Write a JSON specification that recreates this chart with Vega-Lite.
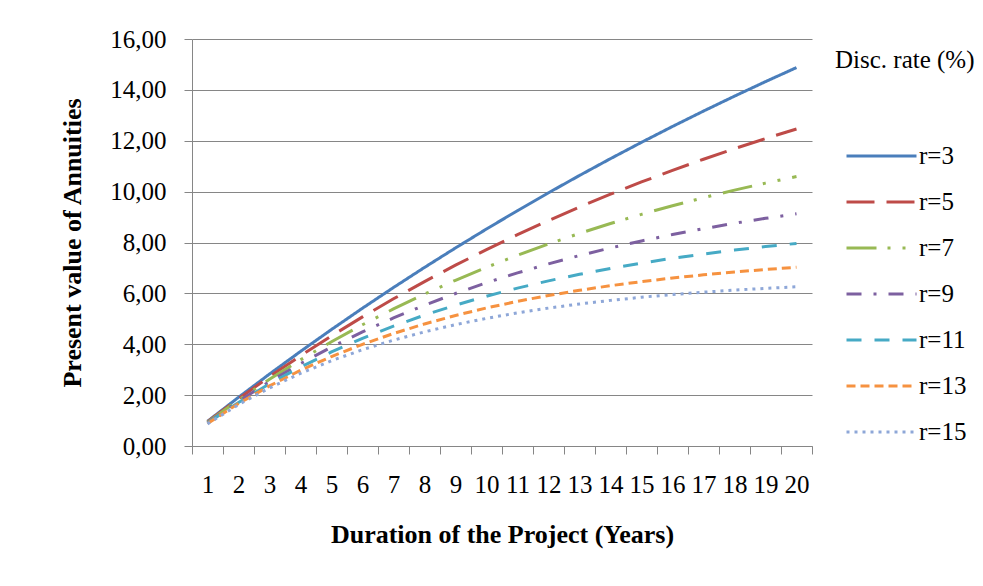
{
  "$schema": "https://vega.github.io/schema/vega-lite/v6.json",
  "width": 620,
  "height": 407,
  "autosize": "none",
  "padding": {"left": 192, "top": 39, "right": 171, "bottom": 140},
  "background": "white",
  "config": {
    "view": {"stroke": null},
    "font": "Liberation Serif",
    "axis": {
      "domainColor": "#868686",
      "tickColor": "#868686",
      "gridColor": "#868686",
      "labelFont": "Liberation Serif",
      "titleFont": "Liberation Serif",
      "labelColor": "black",
      "titleColor": "black",
      "labelFontSize": 25,
      "titleFontSize": 26,
      "titleFontWeight": "bold"
    }
  },
  "data": {
    "values": [
      {"n": 1, "r=3": 0.9709, "r=5": 0.9524, "r=7": 0.9346, "r=9": 0.9174, "r=11": 0.9009, "r=13": 0.8850, "r=15": 0.8696},
      {"n": 2, "r=3": 1.9135, "r=5": 1.8594, "r=7": 1.8080, "r=9": 1.7591, "r=11": 1.7125, "r=13": 1.6681, "r=15": 1.6257},
      {"n": 3, "r=3": 2.8286, "r=5": 2.7232, "r=7": 2.6243, "r=9": 2.5313, "r=11": 2.4437, "r=13": 2.3612, "r=15": 2.2832},
      {"n": 4, "r=3": 3.7171, "r=5": 3.5460, "r=7": 3.3872, "r=9": 3.2397, "r=11": 3.1024, "r=13": 2.9745, "r=15": 2.8550},
      {"n": 5, "r=3": 4.5797, "r=5": 4.3295, "r=7": 4.1002, "r=9": 3.8897, "r=11": 3.6959, "r=13": 3.5172, "r=15": 3.3522},
      {"n": 6, "r=3": 5.4172, "r=5": 5.0757, "r=7": 4.7665, "r=9": 4.4859, "r=11": 4.2305, "r=13": 3.9975, "r=15": 3.7845},
      {"n": 7, "r=3": 6.2303, "r=5": 5.7864, "r=7": 5.3893, "r=9": 5.0330, "r=11": 4.7122, "r=13": 4.4226, "r=15": 4.1604},
      {"n": 8, "r=3": 7.0197, "r=5": 6.4632, "r=7": 5.9713, "r=9": 5.5348, "r=11": 5.1461, "r=13": 4.7988, "r=15": 4.4873},
      {"n": 9, "r=3": 7.7861, "r=5": 7.1078, "r=7": 6.5152, "r=9": 5.9952, "r=11": 5.5370, "r=13": 5.1317, "r=15": 4.7716},
      {"n": 10, "r=3": 8.5302, "r=5": 7.7217, "r=7": 7.0236, "r=9": 6.4177, "r=11": 5.8892, "r=13": 5.4262, "r=15": 5.0188},
      {"n": 11, "r=3": 9.2526, "r=5": 8.3064, "r=7": 7.4987, "r=9": 6.8052, "r=11": 6.2065, "r=13": 5.6869, "r=15": 5.2337},
      {"n": 12, "r=3": 9.9540, "r=5": 8.8633, "r=7": 7.9427, "r=9": 7.1607, "r=11": 6.4924, "r=13": 5.9176, "r=15": 5.4206},
      {"n": 13, "r=3": 10.6350, "r=5": 9.3936, "r=7": 8.3577, "r=9": 7.4869, "r=11": 6.7499, "r=13": 6.1218, "r=15": 5.5831},
      {"n": 14, "r=3": 11.2961, "r=5": 9.8986, "r=7": 8.7455, "r=9": 7.7862, "r=11": 6.9819, "r=13": 6.3025, "r=15": 5.7245},
      {"n": 15, "r=3": 11.9379, "r=5": 10.3797, "r=7": 9.1079, "r=9": 8.0607, "r=11": 7.1909, "r=13": 6.4624, "r=15": 5.8474},
      {"n": 16, "r=3": 12.5611, "r=5": 10.8378, "r=7": 9.4466, "r=9": 8.3126, "r=11": 7.3792, "r=13": 6.6039, "r=15": 5.9542},
      {"n": 17, "r=3": 13.1661, "r=5": 11.2741, "r=7": 9.7632, "r=9": 8.5436, "r=11": 7.5488, "r=13": 6.7291, "r=15": 6.0472},
      {"n": 18, "r=3": 13.7535, "r=5": 11.6896, "r=7": 10.0591, "r=9": 8.7556, "r=11": 7.7016, "r=13": 6.8399, "r=15": 6.1280},
      {"n": 19, "r=3": 14.3238, "r=5": 12.0853, "r=7": 10.3356, "r=9": 8.9501, "r=11": 7.8393, "r=13": 6.9380, "r=15": 6.1982},
      {"n": 20, "r=3": 14.8775, "r=5": 12.4622, "r=7": 10.5940, "r=9": 9.1285, "r=11": 7.9633, "r=13": 7.0248, "r=15": 6.2593}
    ]
  },
  "transform": [
    {"fold": ["r=3", "r=5", "r=7", "r=9", "r=11", "r=13", "r=15"], "as": ["rate", "pv"]}
  ],
  "mark": {"type": "line", "strokeWidth": 3, "strokeCap": "butt", "clip": false},
  "encoding": {
    "x": {
      "field": "n",
      "type": "ordinal",
      "scale": {"type": "band", "paddingInner": 0, "paddingOuter": 0},
      "axis": {
        "title": "Duration of the Project (Years)",
        "labelAngle": 0,
        "tickBand": "extent",
        "tickSize": 8,
        "labelPadding": 18,
        "titlePadding": 24,
        "domainColor": "#868686"
      }
    },
    "y": {
      "field": "pv",
      "type": "quantitative",
      "scale": {"domain": [0, 16], "nice": false},
      "axis": {
        "title": "Present value of Annuities",
        "values": [0, 2, 4, 6, 8, 10, 12, 14, 16],
        "labelExpr": "replace(format(datum.value, '.2f'), '.', ',')",
        "tickSize": 8,
        "labelPadding": 18,
        "titlePadding": 24,
        "grid": true
      }
    },
    "color": {
      "field": "rate",
      "type": "nominal",
      "scale": {
        "domain": ["r=3", "r=5", "r=7", "r=9", "r=11", "r=13", "r=15"],
        "range": ["#4A7EBB", "#BE4B48", "#98B954", "#7D60A0", "#46AAC5", "#F69240", "#8EA7D8"]
      },
      "legend": {
        "title": "Disc. rate (%)",
        "orient": "none",
        "legendX": 643,
        "legendY": 9,
        "padding": 0,
        "titleFont": "Liberation Serif",
        "titleFontSize": 25,
        "titleFontWeight": "normal",
        "titleColor": "black",
        "titlePadding": 64,
        "labelFont": "Liberation Serif",
        "labelFontSize": 25,
        "labelColor": "black",
        "symbolType": "M-1,0H3",
        "symbolSize": 1225,
        "symbolStrokeWidth": 3,
        "symbolOffset": 10,
        "labelOffset": 36,
        "rowPadding": 14
      }
    },
    "strokeDash": {
      "field": "rate",
      "type": "nominal",
      "scale": {
        "domain": ["r=3", "r=5", "r=7", "r=9", "r=11", "r=13", "r=15"],
        "range": [[1, 0], [28, 12], [30, 11, 3, 12, 3, 12], [15, 12, 3, 12], [15, 13], [9, 5], [3, 5]]
      },
      "legend": {"title": "Disc. rate (%)"}
    }
  }
}
